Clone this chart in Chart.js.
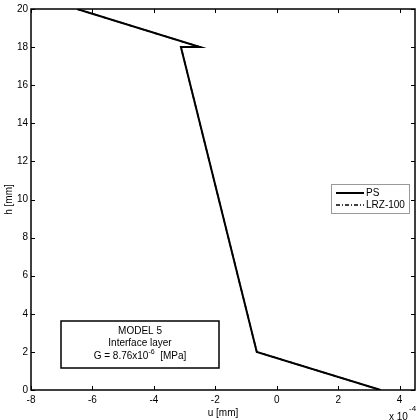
<!DOCTYPE html>
<html>
<head>
<meta charset="utf-8">
<script src="https://cdn.jsdelivr.net/npm/chart.js@4/dist/chart.umd.min.js"></script>
<style>
  html, body { margin: 0; padding: 0; background: #fff; }
  #wrap { width: 420px; height: 420px; }
</style>
</head>
<body>
<div id="wrap"><canvas id="grafico" width="420" height="420"></canvas></div>
<script>
// Datos (u en unidades de 1e-4 mm)
const psU = [-6.5, -2.5, -3.12, -0.65, 3.38];
const psH = [20, 18, 18, 2, 0];
const lrzU = [-6.5, -2.5, -3.12, -0.65, 3.38];
const lrzH = [20, 18, 18, 2, 0];
const xTicks = [-8, -6, -4, -2, 0, 2, 4];
const yTicks = [0, 2, 4, 6, 8, 10, 12, 14, 16, 18, 20];
const seriesLabels = ["PS", "LRZ-100"];
const noteLines = ["MODEL 5", "Interface layer"];

const FONT = "'Liberation Sans', Arial, sans-serif";

function toPoints(us, hs) {
  return us.map((u, i) => ({ x: u, y: hs[i] }));
}

// Marco, ticks hacia dentro, leyenda y cuadro de texto
const matlabDecor = {
  id: "matlabDecor",
  afterDraw(chart) {
    const ctx = chart.ctx;
    const a = chart.chartArea;
    const xs = chart.scales.x, ys = chart.scales.y;
    ctx.save();
    ctx.strokeStyle = "#000";
    ctx.lineWidth = 1.5;
    ctx.strokeRect(a.left, a.top, a.right - a.left, a.bottom - a.top);

    ctx.lineWidth = 1;
    ctx.beginPath();
    xTicks.forEach(v => {
      const px = Math.round(xs.getPixelForValue(v)) + 0.5;
      ctx.moveTo(px, a.bottom); ctx.lineTo(px, a.bottom - 4);
      ctx.moveTo(px, a.top); ctx.lineTo(px, a.top + 4);
    });
    yTicks.forEach(v => {
      const py = Math.round(ys.getPixelForValue(v)) + 0.5;
      ctx.moveTo(a.left, py); ctx.lineTo(a.left + 4, py);
      ctx.moveTo(a.right, py); ctx.lineTo(a.right - 4, py);
    });
    ctx.stroke();

    // multiplicador del eje x
    ctx.fillStyle = "#000";
    ctx.font = "10px " + FONT;
    ctx.textBaseline = "alphabetic";
    ctx.textAlign = "left";
    ctx.fillText("x 10", 389, 420);
    ctx.font = "8px " + FONT;
    ctx.fillText("-4", 409, 411);

    // leyenda
    const lx = 331, ly = 184, lw = 78, lh = 29;
    ctx.fillStyle = "#fff";
    ctx.fillRect(lx, ly, lw, lh);
    ctx.strokeStyle = "#999";
    ctx.lineWidth = 1;
    ctx.strokeRect(lx + 0.5, ly + 0.5, lw, lh);
    chart.data.datasets.forEach((ds, i) => {
      const yy = ly + 9 + i * 12;
      ctx.strokeStyle = ds.borderColor;
      ctx.lineWidth = ds.borderWidth;
      ctx.setLineDash(ds.borderDash || []);
      ctx.beginPath();
      ctx.moveTo(lx + 5, yy);
      ctx.lineTo(lx + 33, yy);
      ctx.stroke();
      ctx.setLineDash([]);
      ctx.fillStyle = "#000";
      ctx.font = "10px " + FONT;
      ctx.textBaseline = "middle";
      ctx.textAlign = "left";
      ctx.fillText(ds.label, lx + 35, yy);
    });

    // cuadro del modelo
    const bx = 61, by = 321, bw = 158, bh = 47;
    ctx.fillStyle = "#fff";
    ctx.fillRect(bx, by, bw, bh);
    ctx.strokeStyle = "#000";
    ctx.lineWidth = 1.5;
    ctx.strokeRect(bx, by, bw, bh);
    const cx = bx + bw / 2;
    ctx.fillStyle = "#000";
    ctx.font = "10px " + FONT;
    ctx.textAlign = "center";
    ctx.textBaseline = "middle";
    ctx.fillText(noteLines[0], cx, by + 10);
    ctx.fillText(noteLines[1], cx, by + 22);
    // G = 8.76x10^-6 [MPa]
    const p1 = "G = 8.76x10", sup = "-6", p2 = "  [MPa]";
    ctx.textAlign = "left";
    const w1 = ctx.measureText(p1).width;
    ctx.font = "7px " + FONT;
    const ws = ctx.measureText(sup).width;
    ctx.font = "10px " + FONT;
    const w2 = ctx.measureText(p2).width;
    let sx = cx - (w1 + ws + w2) / 2;
    ctx.fillText(p1, sx, by + 35);
    ctx.font = "7px " + FONT;
    ctx.fillText(sup, sx + w1, by + 31);
    ctx.font = "10px " + FONT;
    ctx.fillText(p2, sx + w1 + ws, by + 35);
    ctx.restore();
  }
};

new Chart(document.getElementById("grafico").getContext("2d"), {
  type: "scatter",
  data: {
    datasets: [
      {
        label: seriesLabels[0],
        data: toPoints(psU, psH),
        showLine: true,
        borderColor: "#000",
        borderWidth: 2,
        pointRadius: 0,
        fill: false,
        order: 0
      },
      {
        label: seriesLabels[1],
        data: toPoints(lrzU, lrzH),
        showLine: true,
        borderColor: "#000",
        borderWidth: 1.5,
        borderDash: [4, 2, 1, 2],
        pointRadius: 0,
        fill: false,
        order: 1
      }
    ]
  },
  options: {
    responsive: false,
    animation: false,
    devicePixelRatio: 1,
    layout: { padding: { top: 9, right: 5, left: 0, bottom: 0 } },
    plugins: {
      legend: { display: false },
      tooltip: { enabled: false }
    },
    scales: {
      x: {
        type: "linear",
        min: -8,
        max: 4.5,
        afterBuildTicks: s => { s.ticks = xTicks.map(v => ({ value: v })); },
        afterFit: s => { s.height = 30; },
        grid: { display: false, drawTicks: false },
        border: { display: false },
        ticks: { color: "#000", padding: 4, maxRotation: 0, font: { family: FONT, size: 10 } },
        title: {
          display: true,
          text: "u [mm]",
          color: "#000",
          padding: { top: 0, bottom: 1 },
          font: { family: FONT, size: 10 }
        }
      },
      y: {
        type: "linear",
        min: 0,
        max: 20,
        afterBuildTicks: s => { s.ticks = yTicks.map(v => ({ value: v })); },
        afterFit: s => { s.width = 31; },
        grid: { display: false, drawTicks: false },
        border: { display: false },
        ticks: { color: "#000", padding: 3, font: { family: FONT, size: 10 } },
        title: {
          display: true,
          text: "h [mm]",
          color: "#000",
          padding: { top: 3, bottom: 2 },
          font: { family: FONT, size: 10 }
        }
      }
    }
  },
  plugins: [matlabDecor]
});
</script>
</body>
</html>
